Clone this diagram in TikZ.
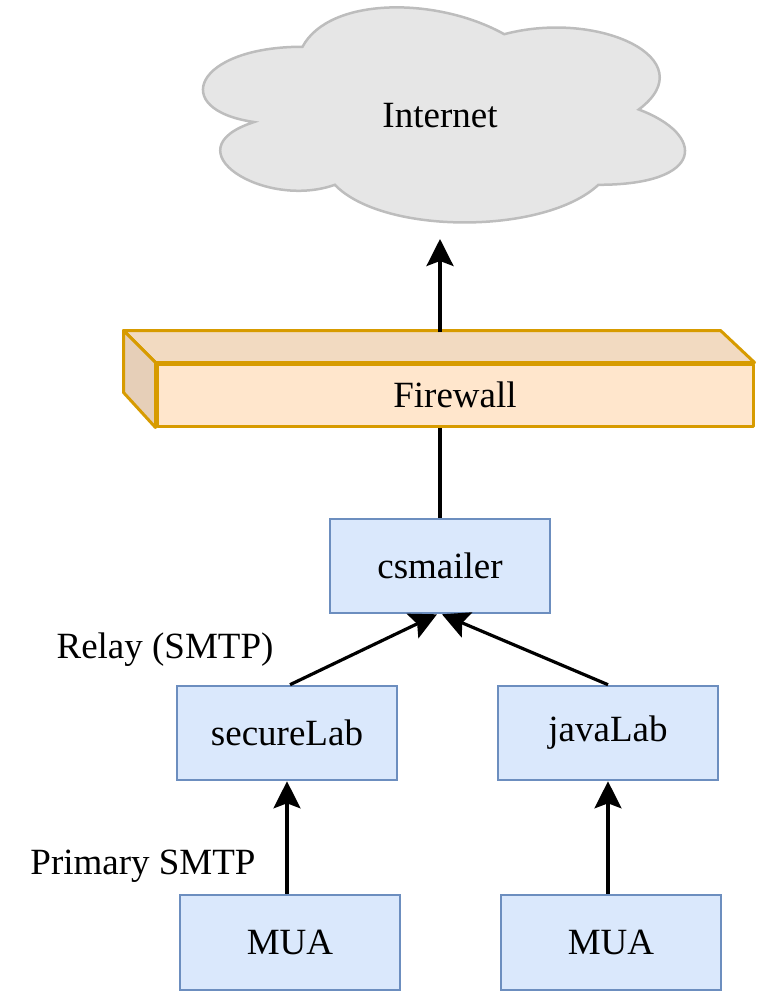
\documentclass[tikz,border=0pt]{standalone}
\usepackage{fontspec}
\setmainfont{Liberation Serif}
\usetikzlibrary{arrows.meta}
\definecolor{boxfill}{HTML}{DAE8FC}
\definecolor{boxdraw}{HTML}{6C8EBF}
\definecolor{fwfill}{HTML}{FFE6CC}
\definecolor{fwdraw}{HTML}{D79B00}
\definecolor{fwtopc}{HTML}{F2DAC1}
\definecolor{fwsidec}{HTML}{E6CFB8}
\definecolor{cloudfill}{HTML}{E6E6E6}
\definecolor{clouddraw}{HTML}{BDBDBD}
\begin{document}
\begin{tikzpicture}[x=1pt,y=-1pt,font=\fontsize{37}{44}\selectfont,
  box/.style={draw=boxdraw,fill=boxfill,line width=2.6pt,minimum width=220pt,minimum height=94pt,inner sep=0pt},
  arr/.style={line width=3.2pt,-{Stealth[length=27pt,width=27pt,inset=5pt]}},
  conn/.style={line width=3.2pt},
  fwface/.style={draw=fwdraw,line width=3pt,line join=round}]
\useasboundingbox (0,0) rectangle (757,991);
% cloud
\draw[fill=cloudfill,draw=clouddraw,line width=2.5pt]
  (302.5,46.75) .. controls (194.9,46.75) and (168,109.5) .. (254.1,122.05)
  .. controls (168,149.66) and (264.8,209.9) .. (334.8,184.8)
  .. controls (383.2,235) and (544.6,235) .. (598.4,184.8)
  .. controls (706,184.8) and (706,134.6) .. (638.75,109.5)
  .. controls (706,59.3) and (598.4,9.1) .. (504.25,34.2)
  .. controls (437,-3.45) and (329.4,-3.45) .. (302.5,46.75) -- cycle;
\node (internet) at (440,116) {Internet};
\coordinate (cloudtip) at (440,239);
% firewall
\node[fwface,fill=fwfill,minimum width=596pt,minimum height=62pt,inner sep=0pt] (fw) at (455,395) {Firewall};
\draw[fwface,fill=fwtopc] (fw.north west) -- ++(-32,-32) -- ++(597,0) -- (fw.north east) -- cycle;
\draw[fwface,fill=fwsidec] (fw.north west) -- ++(-32,-32) -- ++(0,62) -- (fw.south west) -- cycle;
\coordinate (fwtop) at (440,332);
% boxes
\node[box] (cs) at (440,566) {csmailer};
\node[box] (secure) at (287,733) {secureLab};
\node[box] (java) at (608,733) {javaLab};
\node[box,minimum height=95pt] (mua1) at (290,942.5) {MUA};
\node[box,minimum height=95pt] (mua2) at (611,942.5) {MUA};
% labels
\node (relay) at (165,650) {Relay (SMTP)};
\node (primary) at (143,866) {Primary SMTP};
% connectors
\draw[arr] (fwtop) -- (cloudtip);
\draw[conn] (cs.north) -- (cs.north |- fw.south);
\draw[arr] ([xshift=3pt]secure.north) -- ([xshift=-3pt]cs.south);
\draw[arr] (java.north) -- ([xshift=2pt]cs.south);
\draw[arr] (secure.south |- mua1.north) -- (secure.south);
\draw[arr] (java.south |- mua2.north) -- (java.south);
\end{tikzpicture}
\end{document}
